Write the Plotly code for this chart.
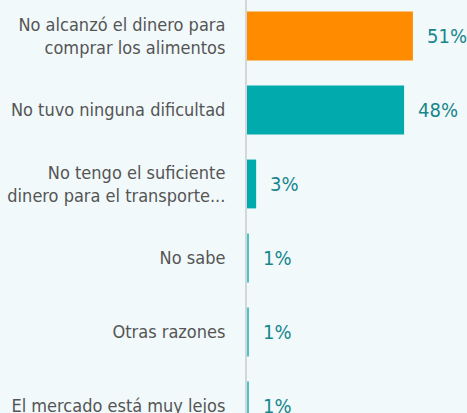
import plotly.graph_objects as go

categories = [
    "No alcanzó el dinero para<br>comprar los alimentos",
    "No tuvo ninguna dificultad",
    "No tengo el suficiente<br>dinero para el transporte...",
    "No sabe",
    "Otras razones",
    "El mercado está muy lejos",
]
values = [50.9, 48.2, 2.8, 0.5, 0.5, 0.5]
value_labels = ["51%", "48%", "3%", "1%", "1%", "1%"]
bar_colors = ["#FF8C00", "#00AAAD", "#00AAAD", "#4CC3C7", "#4CC3C7", "#4CC3C7"]

FONT = "DejaVu Sans Condensed"
BG = "#F1F9FB"

fig = go.Figure(
    go.Bar(
        x=values,
        y=categories,
        orientation="h",
        marker=dict(color=bar_colors, line=dict(width=0)),
        hoverinfo="skip",
    )
)

for v, c, lab in zip(values, categories, value_labels):
    fig.add_annotation(
        x=v, y=c, text=lab, showarrow=False, xanchor="left", xshift=12,
        font=dict(family=FONT, size=20, color="#17868C"),
    )

fig.update_layout(
    width=467, height=413,
    margin=dict(l=247, r=0, t=0, b=0),
    paper_bgcolor=BG, plot_bgcolor=BG,
    bargap=0.34,
    showlegend=False,
    font=dict(family=FONT),
    xaxis=dict(range=[0, 67.5], visible=False, fixedrange=True),
    yaxis=dict(
        range=[5.095, -0.486],
        showline=True, linecolor="#D6D6D6", linewidth=2,
        showgrid=False, zeroline=False, ticks="",
        ticklabelstandoff=16,
        tickfont=dict(family=FONT, size=18, color="#555555"),
        automargin=False,
        fixedrange=True,
    ),
)

fig.write_html(
    "out.html",
    config={"displayModeBar": False},
    post_script="document.body.style.margin='0';document.body.style.overflow='hidden';",
)
